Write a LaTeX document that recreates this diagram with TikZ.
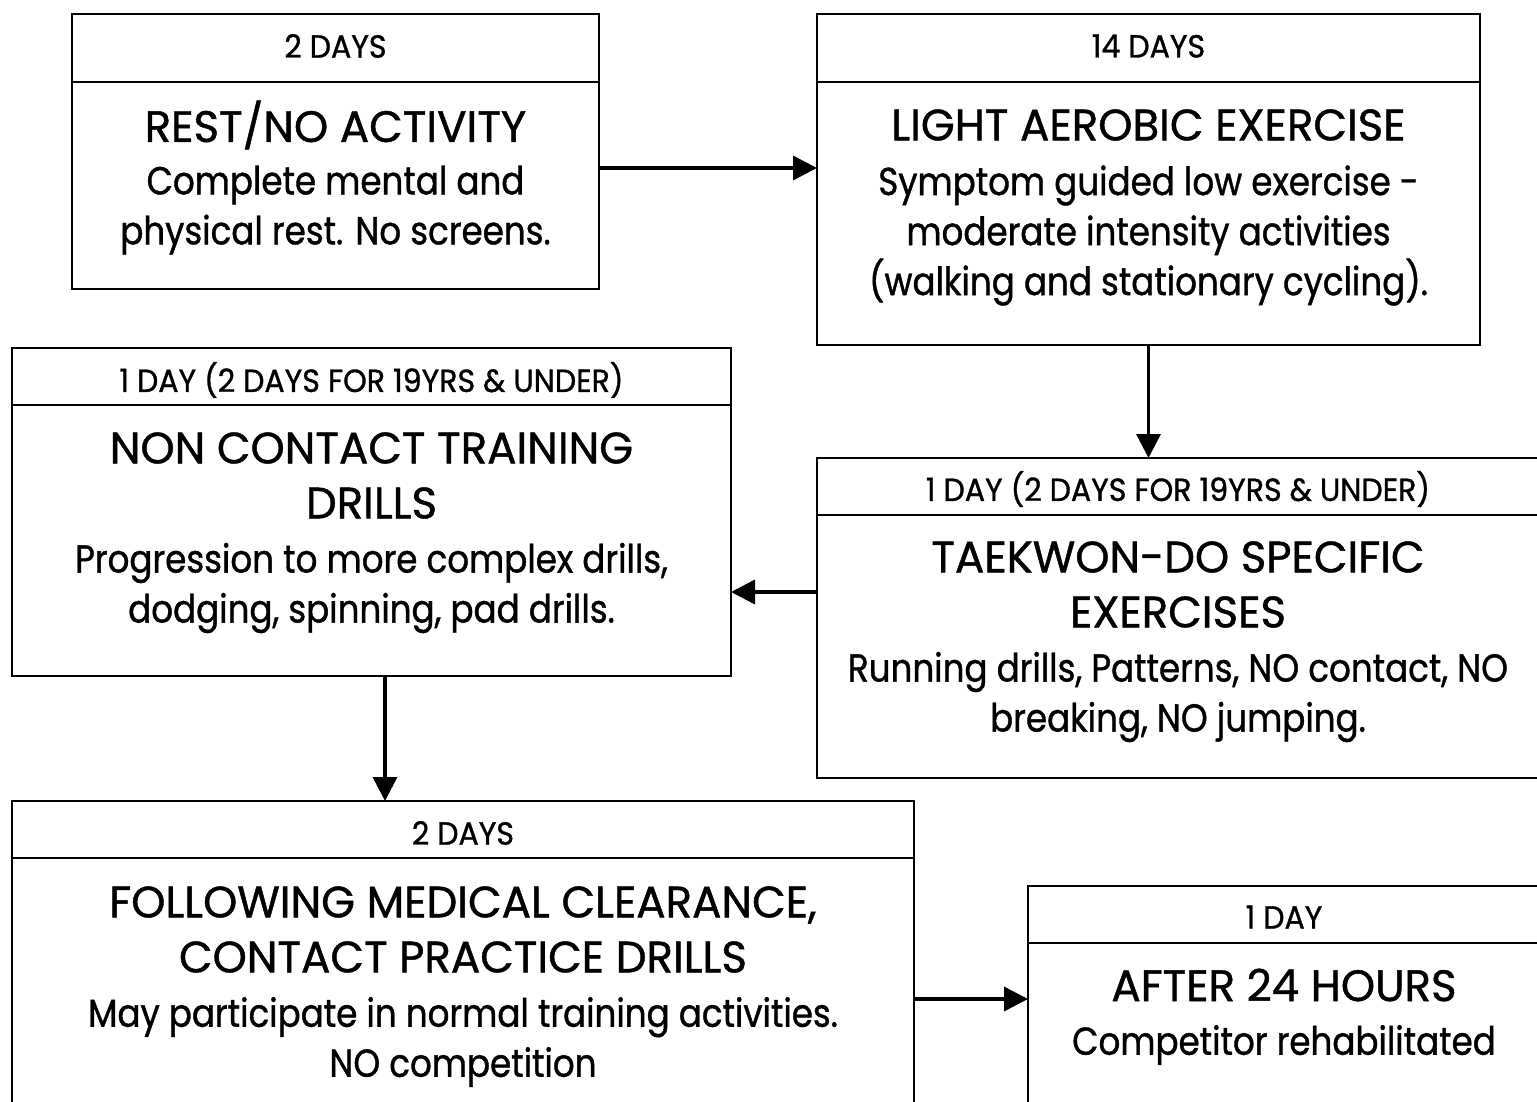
\documentclass[tikz,border=0pt]{standalone}
\usepackage{fontspec}
\setmainfont{Poppins}[FakeStretch=0.87, FakeBold=1]
\newfontfamily\hdrfont{Poppins}[FakeStretch=0.94, FakeBold=1]
\newfontfamily\ttlfont{Poppins}[FakeStretch=0.99, FakeBold=1]
\newfontfamily\bdyfont{Poppins}[FakeStretch=0.875, FakeBold=1]
\usetikzlibrary{arrows.meta}
\tikzset{
  stage/.style={draw, line width=2.5pt, rectangle, inner sep=0pt, outer sep=0pt},
  divider/.style={line width=2.5pt},
  hdr/.style={font=\hdrfont\fontsize{32}{38}\selectfont, align=center, inner sep=0pt},
  ttl/.style={font=\ttlfont\fontsize{44}{55}\selectfont, align=center, inner sep=0pt},
  bdy/.style={font=\bdyfont\fontsize{39}{50}\selectfont, align=center, inner sep=0pt},
  flow/.style={line width=3.6pt, -{Triangle[length=24pt,width=24pt]}}
}
\begin{document}
\begin{tikzpicture}[x=1pt,y=-1pt]
\useasboundingbox (0,0) rectangle (1537,1102);
\clip (0,0) rectangle (1537,1102);
% boxes
\node[stage, minimum width=527pt, minimum height=275pt] (a) at (335.5,151.5) {};
\node[stage, minimum width=663pt, minimum height=331pt] (b) at (1148.5,179.5) {};
\node[stage, minimum width=719pt, minimum height=328pt] (c) at (371.5,512) {};
\node[stage, minimum width=722pt, minimum height=320pt] (d) at (1178,618) {};
\node[stage, minimum width=902pt, minimum height=307pt] (e) at (463,954.5) {};
\node[stage, minimum width=512pt, minimum height=222pt] (f) at (1284,997) {};
% dividers
\draw[divider] (a.west |- 0,82) -- (a.east |- 0,82);
\draw[divider] (b.west |- 0,82) -- (b.east |- 0,82);
\draw[divider] (c.west |- 0,405) -- (c.east |- 0,405);
\draw[divider] (d.west |- 0,515) -- (d.east |- 0,515);
\draw[divider] (e.west |- 0,858) -- (e.east |- 0,858);
\draw[divider] (f.west |- 0,943) -- (f.east |- 0,943);
% texts
\node[hdr] (ah) at (335.5,46) {2 DAYS};
\node[ttl] (at) at (335.5,125) {REST/NO ACTIVITY};
\node[bdy] (ab) at (335.5,210) {Complete mental and\\physical rest. No screens.};
\node[hdr] (bh) at (1148.5,46) {14 DAYS};
\node[ttl] (bt) at (1148.5,125) {LIGHT AEROBIC EXERCISE};
\node[bdy] (bb) at (1148.5,235.5) {Symptom guided low exercise -\\moderate intensity activities\\(walking and stationary cycling).};
\node[hdr] (ch) at (371.5,380) {1 DAY (2 DAYS FOR 19YRS \& UNDER)};
\node[ttl] (ct) at (371.5,475.5) {NON CONTACT TRAINING\\DRILLS};
\node[bdy] (cb) at (371.5,588) {Progression to more complex drills,\\dodging, spinning, pad drills.};
\node[hdr] (dh) at (1178,489) {1 DAY (2 DAYS FOR 19YRS \& UNDER)};
\node[ttl] (dt) at (1178,584.5) {TAEKWON-DO SPECIFIC\\EXERCISES};
\node[bdy] (db) at (1178,697) {Running drills, Patterns, NO contact, NO\\breaking, NO jumping.};
\node[hdr] (eh) at (463,833) {2 DAYS};
\node[ttl] (et) at (463,929.5) {FOLLOWING MEDICAL CLEARANCE,\\CONTACT PRACTICE DRILLS};
\node[bdy] (eb) at (463,1042) {May participate in normal training activities.\\NO competition};
\node[hdr] (fh) at (1284,917) {1 DAY};
\node[ttl] (ft) at (1284,985) {AFTER 24 HOURS};
\node[bdy] (fb) at (1284,1045) {Competitor rehabilitated};
% connectors
\draw[flow] (a.east |- 0,168) -- (b.west |- 0,168);
\draw[flow] (b.south) -- (b.south |- d.north);
\draw[flow] (d.west |- 0,592) -- (c.east |- 0,592);
\draw[flow] (c.south -| 385,0) -- (e.north -| 385,0);
\draw[flow] (e.east |- 0,999) -- (f.west |- 0,999);
\end{tikzpicture}
\end{document}
